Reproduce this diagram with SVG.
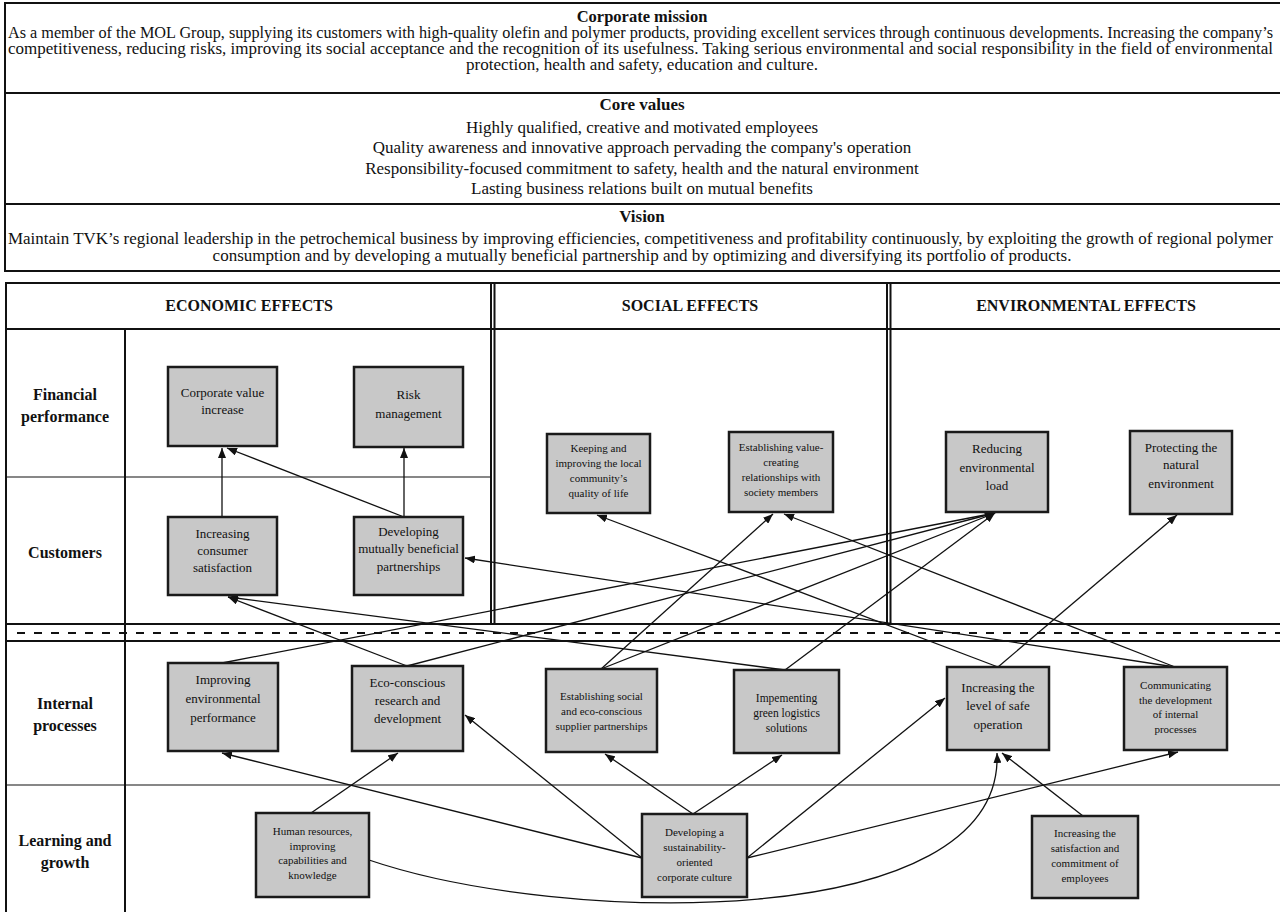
<svg xmlns="http://www.w3.org/2000/svg" width="1280" height="912" viewBox="0 0 1280 912" font-family="'Liberation Serif', 'Times New Roman', Times, serif">
<style>
text{font-family:'Liberation Serif','Times New Roman',Times,serif;fill:#111}
.t{font-size:17px}
.tb{font-size:17px;font-weight:bold}
.m{font-size:16px}
.mb{font-size:16.5px;font-weight:bold}
.c{text-anchor:middle}
.lab{font-size:16px;font-weight:bold;text-anchor:middle}
.n13{font-size:13px;text-anchor:middle}
.n11{font-size:11px;text-anchor:middle}
.box{fill:#c8c8c8;stroke:#1a1a1a;stroke-width:2.5}
.fr{stroke:#111;stroke-width:2;fill:none}
.thin{stroke:#111;stroke-width:1.2;fill:none}
.con{stroke:#111;stroke-width:1.3;fill:none;marker-end:url(#ah)}
</style>
<defs>
<marker id="ah" viewBox="0 0 10 8" refX="10" refY="4" markerWidth="10" markerHeight="8" markerUnits="userSpaceOnUse" orient="auto">
<path d="M0,0 L10,4 L0,8 z" fill="#111"/>
</marker>
</defs>
<rect width="1280" height="912" fill="#fff"/>

<g id="header-box">
<line class="fr" x1="5" y1="3" x2="1280" y2="3"/>
<line class="fr" x1="5" y1="93" x2="1280" y2="93"/>
<line class="fr" x1="5" y1="204" x2="1280" y2="204"/>
<line class="fr" x1="5" y1="271" x2="1280" y2="271"/>
<line class="fr" x1="5" y1="2" x2="5" y2="272"/>
<text class="mb c" x="642" y="22">Corporate mission</text>
<text class="m" x="8" y="38" textLength="1265" lengthAdjust="spacingAndGlyphs">As a member of the MOL Group, supplying its customers with high-quality olefin and polymer products, providing excellent services through continuous developments. Increasing the company’s</text>
<text class="m" x="8" y="54" textLength="1265" lengthAdjust="spacingAndGlyphs">competitiveness, reducing risks, improving its social acceptance and the recognition of its usefulness. Taking serious environmental and social responsibility in the field of environmental</text>
<text class="m c" x="642" y="70" textLength="352" lengthAdjust="spacingAndGlyphs">protection, health and safety, education and culture.</text>
<text class="tb c" x="642" y="110">Core values</text>
<text class="t c" x="642" y="133">Highly qualified, creative and motivated employees</text>
<text class="t c" x="642" y="153">Quality awareness and innovative approach pervading the company's operation</text>
<text class="t c" x="642" y="174">Responsibility-focused commitment to safety, health and the natural environment</text>
<text class="t c" x="642" y="194">Lasting business relations built on mutual benefits</text>
<text class="tb c" x="642" y="222">Vision</text>
<text class="t" x="8" y="244" textLength="1265" lengthAdjust="spacingAndGlyphs">Maintain TVK’s regional leadership in the petrochemical business by improving efficiencies, competitiveness and profitability continuously, by exploiting the growth of regional polymer</text>
<text class="t c" x="642" y="261">consumption and by developing a mutually beneficial partnership and by optimizing and diversifying its portfolio of products.</text>
</g>

<g id="grid">
<line class="fr" x1="5" y1="283" x2="1280" y2="283"/>
<line class="fr" x1="6" y1="282" x2="6" y2="912"/>
<line class="fr" x1="6" y1="329" x2="1280" y2="329"/>
<line class="fr" x1="125" y1="329" x2="125" y2="912"/>
<line class="fr" x1="491" y1="283" x2="491" y2="624" stroke-width="1.6"/>
<line class="fr" x1="494.5" y1="283" x2="494.5" y2="624" stroke-width="1.6"/>
<line class="fr" x1="887" y1="283" x2="887" y2="624" stroke-width="1.6"/>
<line class="fr" x1="890.5" y1="283" x2="890.5" y2="624" stroke-width="1.6"/>
<line class="thin" x1="6" y1="477" x2="491" y2="477"/>
<line class="fr" x1="6" y1="624" x2="1280" y2="624"/>
<line class="fr" x1="17" y1="633" x2="1280" y2="633" stroke-dasharray="8 9"/>
<line class="fr" x1="6" y1="641" x2="1280" y2="641"/>
<line class="thin" x1="6" y1="785" x2="1280" y2="785"/>
<text class="lab" x="249" y="311">ECONOMIC EFFECTS</text>
<text class="lab" x="690" y="311">SOCIAL EFFECTS</text>
<text class="lab" x="1086" y="311">ENVIRONMENTAL EFFECTS</text>
<text class="lab" x="65" y="400">Financial</text>
<text class="lab" x="65" y="422">performance</text>
<text class="lab" x="65" y="558">Customers</text>
<text class="lab" x="65" y="709">Internal</text>
<text class="lab" x="65" y="731">processes</text>
<text class="lab" x="65" y="846">Learning and</text>
<text class="lab" x="65" y="868">growth</text>
</g>

<g id="connectors">
<path class="con" d="M222,517 L222,448"/>
<path class="con" d="M404,517 L227,448"/>
<path class="con" d="M404,517 L404,448"/>
<path class="con" d="M1175,667 L465,558"/>
<path class="con" d="M1175,667 L784,514"/>
<path class="con" d="M998,667 L597,515"/>
<path class="con" d="M998,667 L1177,515"/>
<path class="con" d="M601,669 L773,514"/>
<path class="con" d="M601,669 L995,513"/>
<path class="con" d="M222,663 L995,513"/>
<path class="con" d="M407,666 L995,513"/>
<path class="con" d="M407,666 L228,597"/>
<path class="con" d="M785,670 L228,597"/>
<path class="con" d="M785,670 L995,513"/>
<path class="con" d="M311,813 L398,753"/>
<path class="con" d="M642,858 L222,753"/>
<path class="con" d="M642,858 L465,715"/>
<path class="con" d="M693,814 L605,754"/>
<path class="con" d="M693,814 L782,755"/>
<path class="con" d="M747,858 L945,698"/>
<path class="con" d="M747,858 L1178,752"/>
<path class="con" d="M369,860 C560,925 1005,935 997,753"/>
<path class="con" d="M1083,816 L1002,753"/>
</g>

<g id="n-corporate-value"><rect class="box" x="168" y="367" width="109" height="79"/>
<text class="n13" x="222.5" y="397">Corporate value</text><text class="n13" x="222.5" y="414">increase</text></g>
<g id="n-risk"><rect class="box" x="354" y="367" width="109" height="80"/>
<text class="n13" x="408.5" y="399">Risk</text><text class="n13" x="408.5" y="418">management</text></g>
<g id="n-consumer"><rect class="box" x="168" y="517" width="109" height="78"/>
<text class="n13" x="222.5" y="538">Increasing</text><text class="n13" x="222.5" y="555">consumer</text><text class="n13" x="222.5" y="572">satisfaction</text></g>
<g id="n-partnerships"><rect class="box" x="354" y="517" width="109" height="78"/>
<text class="n13" x="408.5" y="536">Developing</text><text class="n13" x="408.5" y="553">mutually beneficial</text><text class="n13" x="408.5" y="571">partnerships</text></g>
<g id="n-community"><rect class="box" x="547" y="434" width="103" height="79"/>
<text class="n11" x="598.5" y="452">Keeping and</text><text class="n11" x="598.5" y="467">improving the local</text><text class="n11" x="598.5" y="482">community’s</text><text class="n11" x="598.5" y="497">quality of life</text></g>
<g id="n-society"><rect class="box" x="729" y="432" width="104" height="80"/>
<text class="n11" x="781" y="451">Establishing value-</text><text class="n11" x="781" y="466">creating</text><text class="n11" x="781" y="481">relationships with</text><text class="n11" x="781" y="496">society members</text></g>
<g id="n-reducing"><rect class="box" x="946" y="432" width="102" height="80"/>
<text class="n13" x="997" y="453">Reducing</text><text class="n13" x="997" y="472">environmental</text><text class="n13" x="997" y="490">load</text></g>
<g id="n-protecting"><rect class="box" x="1130" y="431" width="102" height="83"/>
<text class="n13" x="1181" y="452">Protecting the</text><text class="n13" x="1181" y="469">natural</text><text class="n13" x="1181" y="488">environment</text></g>
<g id="n-env-performance"><rect class="box" x="168" y="663" width="110" height="88"/>
<text class="n13" x="223" y="684">Improving</text><text class="n13" x="223" y="703">environmental</text><text class="n13" x="223" y="722">performance</text></g>
<g id="n-eco-rd"><rect class="box" x="352" y="666" width="111" height="85"/>
<text class="n13" x="407.5" y="687">Eco-conscious</text><text class="n13" x="407.5" y="705">research and</text><text class="n13" x="407.5" y="723">development</text></g>
<g id="n-supplier"><rect class="box" x="546" y="669" width="111" height="83"/>
<text class="n11" x="601.5" y="700">Establishing social</text><text class="n11" x="601.5" y="715">and eco-conscious</text><text class="n11" x="601.5" y="730">supplier partnerships</text></g>
<g id="n-logistics"><rect class="box" x="734" y="670" width="105" height="83"/>
<text class="n11" x="786.5" y="702" style="font-size:11.5px">Impementing</text><text class="n11" x="786.5" y="717" style="font-size:11.5px">green logistics</text><text class="n11" x="786.5" y="732" style="font-size:11.5px">solutions</text></g>
<g id="n-culture"><rect class="box" x="642" y="814" width="105" height="83"/>
<text class="n11" x="694.5" y="836">Developing a</text><text class="n11" x="694.5" y="851">sustainability-</text><text class="n11" x="694.5" y="866">oriented</text><text class="n11" x="694.5" y="881">corporate culture</text></g>
<g id="n-safe-op"><rect class="box" x="947" y="667" width="102" height="83"/>
<text class="n13" x="998" y="692">Increasing the</text><text class="n13" x="998" y="710">level of safe</text><text class="n13" x="998" y="729">operation</text></g>
<g id="n-communicating"><rect class="box" x="1124" y="667" width="103" height="83"/>
<text class="n11" x="1175.5" y="689">Communicating</text><text class="n11" x="1175.5" y="704">the development</text><text class="n11" x="1175.5" y="718">of internal</text><text class="n11" x="1175.5" y="733">processes</text></g>
<g id="n-employees"><rect class="box" x="1032" y="816" width="106" height="82"/>
<text class="n11" x="1085" y="837">Increasing the</text><text class="n11" x="1085" y="852">satisfaction and</text><text class="n11" x="1085" y="867">commitment of</text><text class="n11" x="1085" y="882">employees</text></g>
<g id="n-human-resources"><rect class="box" x="256" y="813" width="113" height="84"/>
<text class="n11" x="312.5" y="835">Human resources,</text><text class="n11" x="312.5" y="850">improving</text><text class="n11" x="312.5" y="864">capabilities and</text><text class="n11" x="312.5" y="879">knowledge</text></g>
</svg>
